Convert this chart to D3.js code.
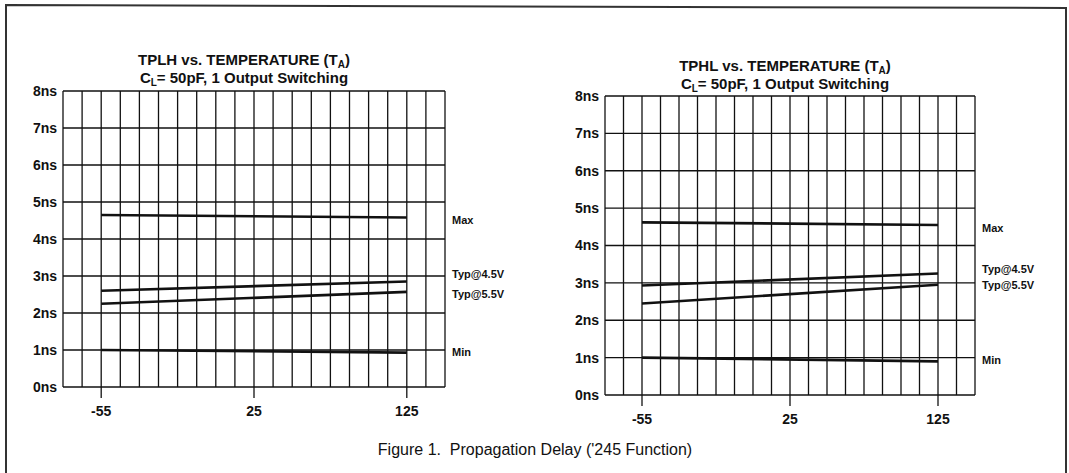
<!DOCTYPE html>
<html><head><meta charset="utf-8">
<script src="https://cdn.jsdelivr.net/npm/d3@7"></script>
<style>
html,body{margin:0;padding:0;background:#fff;}
text{font-family:"Liberation Sans",Arial,Helvetica,sans-serif;fill:#111;}
</style></head>
<body><svg id="c" width="1069" height="473"></svg>
<script>
// ---- data ----
const tempTicks = [-55, 25, 125];
const tempEnds = [-55, 125];
const nsTicks = [0, 1, 2, 3, 4, 5, 6, 7, 8];
const nsTickLabels = ["0ns","1ns","2ns","3ns","4ns","5ns","6ns","7ns","8ns"];
const seriesNames = ["Max", "Typ@4.5V", "Typ@5.5V", "Min"];
// TPLH (left chart), values at -55 and 125 °C
const tplhMax   = [4.65, 4.58];
const tplhTyp45 = [2.60, 2.85];
const tplhTyp55 = [2.25, 2.57];
const tplhMin   = [1.00, 0.93];
const tplhLabelNs = [4.5, 3.05, 2.5, 0.95];
// TPHL (right chart)
const tphlMax   = [4.62, 4.55];
const tphlTyp45 = [2.93, 3.25];
const tphlTyp55 = [2.45, 2.95];
const tphlMin   = [1.00, 0.90];
const tphlLabelNs = [4.47, 3.38, 2.95, 0.93];

const svg = d3.select("#c");
// outer frame
svg.append("path").attr("d","M6,473 L6,5 L1066,8 L1066,473")
  .attr("fill","none").attr("stroke","#333").attr("stroke-width",2);

function chart(opt){
  const {x0,x1,y0,y1,series,labelNs,title,titleX,titleY} = opt;
  const g = svg.append("g");
  const ncol = 20;
  const colX = i => x0 + i*(x1-x0)/ncol;
  const x = d3.scaleLinear().domain([-55,25,125]).range([colX(2),colX(10),colX(18)]);
  const y = d3.scaleLinear().domain([0,8]).range([y1,y0]);
  // vertical grid
  g.selectAll(".vg").data(d3.range(ncol+1)).join("line")
    .attr("x1",colX).attr("x2",colX).attr("y1",y0).attr("y2",y1)
    .attr("stroke","#111").attr("stroke-width",1.3);
  // horizontal grid
  g.selectAll(".hg").data(nsTicks).join("line")
    .attr("x1",x0).attr("x2",x1).attr("y1",d=>y(d)).attr("y2",d=>y(d))
    .attr("stroke","#111").attr("stroke-width",1.3);
  // y axis labels
  g.selectAll(".yl").data(nsTicks).join("text")
    .attr("x",x0-6).attr("y",d=>y(d)).attr("dy","0.35em")
    .attr("text-anchor","end").attr("font-size",14).attr("font-weight","bold")
    .text((d,i)=>nsTickLabels[i]);
  // x ticks
  g.selectAll(".xt").data(tempTicks).join("line")
    .attr("x1",d=>x(d)).attr("x2",d=>x(d)).attr("y1",y1).attr("y2",y1+11)
    .attr("stroke","#111").attr("stroke-width",1.3);
  g.selectAll(".xl").data(tempTicks).join("text")
    .attr("x",d=>x(d)).attr("y",y1+29)
    .attr("text-anchor","middle").attr("font-size",14).attr("font-weight","bold")
    .text(d=>d);
  // series lines
  const line = d3.line().x((d,i)=>x(tempEnds[i])).y(d=>y(d));
  series.forEach(s=>{
    g.append("path").attr("d",line(s)).attr("fill","none")
      .attr("stroke","#111").attr("stroke-width",2.6);
  });
  // series labels
  g.selectAll(".sl").data(seriesNames).join("text")
    .attr("x",x1+7).attr("y",(d,i)=>y(labelNs[i])).attr("dy","0.35em")
    .attr("font-size",11).attr("font-weight","bold")
    .text(d=>d);
  // titles
  const t1 = g.append("text").attr("x",titleX).attr("y",titleY)
    .attr("text-anchor","middle").attr("font-size",15).attr("font-weight","bold");
  t1.append("tspan").text(title+" vs. TEMPERATURE (T");
  t1.append("tspan").attr("dy",3).attr("font-size",10).text("A");
  t1.append("tspan").attr("dy",-3).text(")");
  const t2 = g.append("text").attr("x",titleX).attr("y",titleY+18)
    .attr("text-anchor","middle").attr("font-size",15).attr("font-weight","bold");
  t2.append("tspan").text("C");
  t2.append("tspan").attr("dy",3).attr("font-size",10).text("L");
  t2.append("tspan").attr("dy",-3).text("= 50pF, 1 Output Switching");
}

chart({x0:63,x1:445,y0:91,y1:387,
  series:[tplhMax,tplhTyp45,tplhTyp55,tplhMin],labelNs:tplhLabelNs,
  title:"TPLH",titleX:244,titleY:65});
chart({x0:605,x1:975,y0:96,y1:395,
  series:[tphlMax,tphlTyp45,tphlTyp55,tphlMin],labelNs:tphlLabelNs,
  title:"TPHL",titleX:785,titleY:71});

svg.append("text").attr("x",535).attr("y",455).attr("text-anchor","middle")
  .attr("font-size",16).attr("xml:space","preserve")
  .text("Figure 1.  Propagation Delay ('245 Function)");
</script></body></html>
